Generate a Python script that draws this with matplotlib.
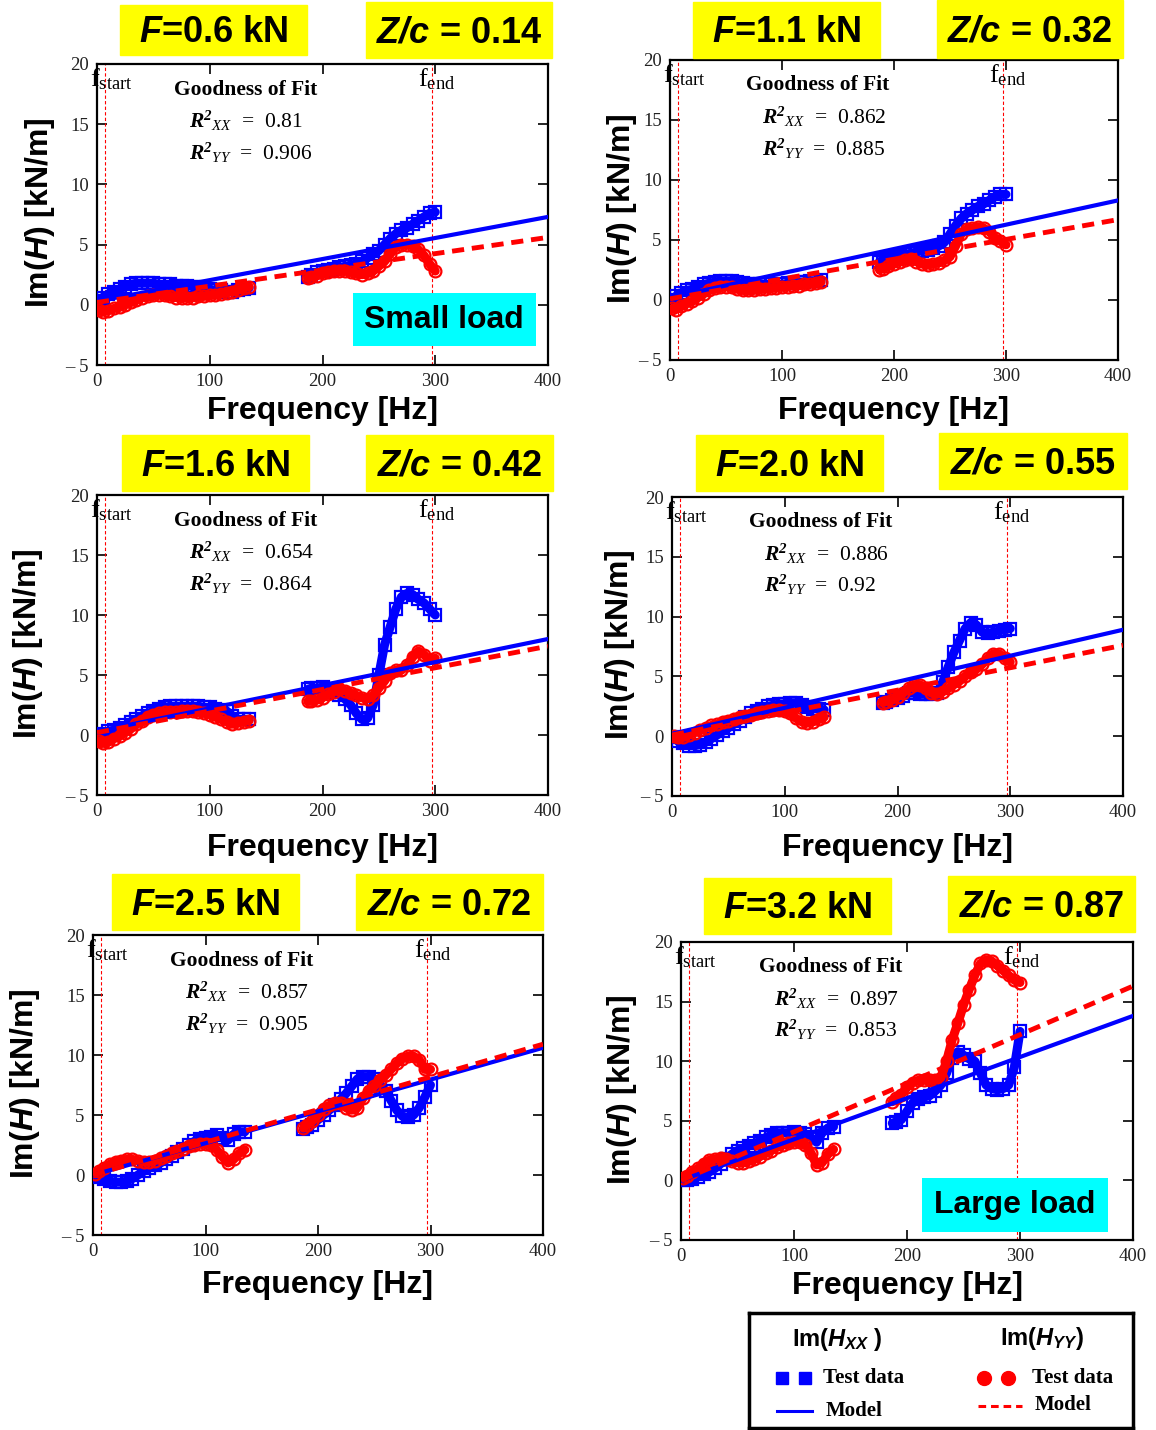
import matplotlib
matplotlib.use("Agg")
import matplotlib.pyplot as plt
from matplotlib.patches import Rectangle

plt.rcParams['mathtext.fontset'] = 'custom'
plt.rcParams['mathtext.rm'] = 'Liberation Serif'
plt.rcParams['mathtext.it'] = 'Liberation Serif:italic'
plt.rcParams['mathtext.bf'] = 'Liberation Serif:italic:bold'
plt.rcParams['mathtext.sf'] = 'Liberation Sans:italic:bold'

# ---- data ----
FREQ_LO = [2, 5, 10, 15, 20, 25, 30, 35, 40, 45, 50, 55, 60, 65, 70,
           75, 80, 85, 90, 95, 100, 105, 110, 115, 120, 125, 130, 135]
FREQ_HI = [187, 190, 195, 200, 205, 210, 215, 220, 225, 230, 235, 240,
           245, 250, 255, 260, 265, 270, 275, 280, 285, 290, 295, 300]
MODEL_FREQ = [0, 400]

LOADS = ['0.6', '1.1', '1.6', '2.0', '2.5', '3.2']
ZC = ['0.14', '0.32', '0.42', '0.55', '0.72', '0.87']
R2_XX = ['0.81', '0.862', '0.654', '0.886', '0.857', '0.897']
R2_YY = ['0.906', '0.885', '0.864', '0.92', '0.905', '0.853']

# model lines (value at 0 Hz and 400 Hz)
XX_MODEL = [[0.3, 7.3], [0.2, 8.3], [0.3, 8.0], [0.2, 8.9], [0.0, 10.6], [0.0, 13.8]]
YY_MODEL = [[0.2, 5.6], [0.1, 6.7], [0.2, 7.4], [0.1, 7.6], [0.0, 10.9], [0.0, 16.3]]

# F = 0.6 kN
XX_LO_1 = [0.3, 0.6, 0.9, 1.1, 1.3, 1.5, 1.7, 1.8, 1.8, 1.8, 1.8, 1.7, 1.7, 1.7,
           1.6, 1.6, 1.6, 1.5, 1.5, 1.4, 1.3, 1.2, 1.2, 1.1, 1.1, 1.2, 1.3, 1.4]
YY_LO_1 = [-0.4, -0.6, -0.5, -0.3, -0.2, 0.0, 0.2, 0.4, 0.6, 0.7, 0.8, 0.8, 0.8, 0.7,
           0.6, 0.6, 0.6, 0.6, 0.7, 0.7, 0.8, 0.8, 0.9, 1.0, 1.1, 1.2, 1.4, 1.5]
XX_HI_1 = [2.3, 2.5, 2.7, 2.8, 2.9, 3.0, 3.1, 3.2, 3.3, 3.4, 3.6, 3.9,
           4.2, 4.5, 5.0, 5.5, 5.9, 6.2, 6.4, 6.7, 7.0, 7.3, 7.6, 7.7]
YY_HI_1 = [2.2, 2.3, 2.4, 2.6, 2.7, 2.8, 2.8, 2.8, 2.7, 2.6, 2.5, 2.6,
           2.8, 3.2, 3.6, 4.2, 4.8, 5.0, 5.0, 4.9, 4.6, 4.1, 3.4, 2.8]
# F = 1.1 kN
XX_LO_2 = [0.0, 0.3, 0.6, 0.8, 0.9, 1.1, 1.3, 1.4, 1.5, 1.6, 1.6, 1.6, 1.5, 1.4,
           1.3, 1.3, 1.3, 1.3, 1.3, 1.3, 1.3, 1.4, 1.4, 1.5, 1.5, 1.6, 1.6, 1.7]
YY_LO_2 = [-0.7, -0.8, -0.5, -0.3, -0.1, 0.2, 0.5, 0.8, 1.0, 1.1, 1.1, 1.1, 0.9, 0.8,
           0.8, 0.8, 0.9, 0.9, 1.0, 1.0, 1.1, 1.1, 1.2, 1.2, 1.3, 1.3, 1.4, 1.5]
XX_HI_2 = [3.2, 3.3, 3.4, 3.6, 3.7, 3.8, 3.9, 4.0, 4.1, 4.2, 4.3, 4.5,
           4.8, 5.5, 6.2, 6.8, 7.2, 7.5, 7.8, 8.0, 8.3, 8.6, 8.8, 8.8]
YY_HI_2 = [2.5, 2.6, 2.8, 3.0, 3.2, 3.3, 3.4, 3.2, 3.0, 2.9, 3.0, 3.1,
           3.3, 3.6, 4.5, 5.5, 5.9, 6.0, 6.1, 6.0, 5.7, 5.2, 4.9, 4.6]
# F = 1.6 kN
XX_LO_3 = [0.0, 0.1, 0.3, 0.4, 0.6, 0.8, 1.1, 1.3, 1.6, 1.8, 2.0, 2.2, 2.3, 2.4,
           2.4, 2.4, 2.4, 2.4, 2.4, 2.3, 2.3, 2.2, 2.1, 2.0, 1.6, 1.3, 1.3, 1.3]
YY_LO_3 = [-0.5, -0.7, -0.6, -0.3, -0.1, 0.2, 0.5, 0.9, 1.2, 1.5, 1.7, 1.8, 1.9, 1.9,
           1.9, 2.0, 2.0, 2.0, 1.9, 1.8, 1.7, 1.5, 1.3, 1.1, 0.9, 1.0, 1.1, 1.2]
XX_HI_3 = [3.8, 3.9, 3.9, 4.0, 3.8, 3.6, 3.3, 3.0, 2.5, 1.8, 1.3, 1.4,
           2.5, 5.0, 7.5, 9.0, 10.5, 11.5, 11.8, 11.7, 11.3, 11.0, 10.5, 10.0]
YY_HI_3 = [2.8, 2.8, 2.9, 3.1, 3.4, 3.6, 3.8, 3.7, 3.5, 3.3, 3.1, 3.0,
           3.3, 3.9, 4.5, 5.2, 5.4, 5.4, 5.8, 6.5, 7.0, 6.7, 6.2, 6.4]
# F = 2.0 kN
XX_LO_4 = [-0.1, -0.4, -0.6, -0.8, -0.8, -0.7, -0.5, -0.2, 0.1, 0.4, 0.7, 1.0, 1.3, 1.6,
           1.9, 2.1, 2.3, 2.5, 2.6, 2.7, 2.7, 2.8, 2.8, 2.6, 2.4, 2.3, 2.3, 2.2]
YY_LO_4 = [0.0, -0.1, -0.1, 0.1, 0.3, 0.5, 0.7, 0.9, 1.0, 1.2, 1.3, 1.4, 1.6, 1.7,
           1.8, 1.9, 2.0, 2.1, 2.2, 2.2, 2.1, 1.9, 1.5, 1.2, 1.1, 1.2, 1.4, 1.6]
XX_HI_4 = [2.8, 2.9, 3.0, 3.2, 3.4, 3.6, 3.6, 3.5, 3.5, 3.5, 3.6, 4.5,
           5.8, 7.0, 8.0, 9.0, 9.5, 9.3, 8.7, 8.6, 8.7, 8.8, 8.9, 9.0]
YY_HI_4 = [2.8, 2.9, 3.0, 3.3, 3.6, 4.0, 4.3, 4.3, 4.0, 3.6, 3.5, 3.7,
           4.0, 4.3, 4.6, 5.0, 5.4, 5.6, 6.0, 6.5, 6.9, 6.9, 6.5, 6.2]
# F = 2.5 kN
XX_LO_5 = [0.0, -0.2, -0.3, -0.5, -0.6, -0.6, -0.5, -0.3, 0.0, 0.3, 0.6, 0.8, 1.0, 1.3,
           1.6, 1.9, 2.2, 2.5, 2.8, 3.0, 3.1, 3.2, 3.3, 3.1, 2.9, 3.4, 3.6, 3.6]
YY_LO_5 = [0.1, 0.3, 0.6, 0.9, 1.1, 1.2, 1.3, 1.3, 1.2, 1.1, 1.1, 1.2, 1.4, 1.6,
           1.8, 2.0, 2.2, 2.4, 2.5, 2.6, 2.6, 2.5, 2.1, 1.5, 1.0, 1.3, 1.8, 2.1]
XX_HI_5 = [3.8, 4.0, 4.2, 4.6, 5.0, 5.4, 5.8, 6.3, 6.8, 7.4, 8.0, 8.2,
           8.2, 8.0, 7.6, 7.0, 6.2, 5.4, 4.9, 4.8, 5.0, 5.6, 6.5, 7.5]
YY_HI_5 = [3.9, 4.2, 4.5, 5.0, 5.5, 5.8, 6.0, 6.0, 5.6, 5.4, 5.6, 6.4,
           7.0, 7.4, 7.9, 8.3, 8.8, 9.3, 9.7, 9.9, 9.9, 9.6, 8.8, 8.8]
# F = 3.2 kN
XX_LO_6 = [0.0, 0.0, 0.1, 0.3, 0.5, 0.7, 1.0, 1.4, 1.8, 2.2, 2.5, 2.7, 2.9, 3.1,
           3.3, 3.6, 3.8, 4.0, 4.0, 4.0, 4.1, 4.0, 3.9, 3.6, 3.2, 4.0, 4.4, 4.5]
YY_LO_6 = [0.2, 0.4, 0.7, 1.0, 1.4, 1.7, 1.8, 1.9, 1.8, 1.6, 1.5, 1.5, 1.6, 1.8,
           2.0, 2.3, 2.5, 2.8, 3.0, 3.1, 3.2, 3.2, 3.0, 2.3, 1.3, 1.5, 2.2, 2.6]
XX_HI_6 = [4.8, 4.9, 5.1, 5.8, 6.5, 6.8, 7.0, 7.1, 7.5, 8.0, 9.0, 10.3,
           10.8, 10.5, 10.2, 10.0, 9.0, 8.0, 7.7, 7.6, 7.7, 8.0, 9.5, 12.5]
YY_HI_6 = [6.6, 6.9, 7.2, 7.8, 8.2, 8.4, 8.4, 8.4, 8.4, 8.6, 10.0, 11.8,
           13.2, 14.7, 16.0, 17.2, 18.2, 18.5, 18.4, 18.0, 17.6, 17.2, 16.8, 16.6]

XX_LO = [XX_LO_1, XX_LO_2, XX_LO_3, XX_LO_4, XX_LO_5, XX_LO_6]
YY_LO = [YY_LO_1, YY_LO_2, YY_LO_3, YY_LO_4, YY_LO_5, YY_LO_6]
XX_HI = [XX_HI_1, XX_HI_2, XX_HI_3, XX_HI_4, XX_HI_5, XX_HI_6]
YY_HI = [YY_HI_1, YY_HI_2, YY_HI_3, YY_HI_4, YY_HI_5, YY_HI_6]

F_START, F_END = 7, 297
XTICKS = [0, 100, 200, 300, 400]
YTICKS = [-5, 0, 5, 10, 15, 20]
YTICKLABELS = ['\u2013 5', '0', '5', '10', '15', '20']

# ---- layout (pixels in the 1156 x 1430 canvas) ----
W, H = 1156, 1430
AX_PX = [(97, 64, 548, 365), (670, 60, 1118, 360), (97, 495, 548, 795),
         (672, 497, 1123, 796), (93, 935, 543, 1235), (681, 942, 1133, 1240)]
FBOX_PX = [(120, 5, 307, 55), (693, 2, 880, 58), (122, 435, 309, 491),
           (696, 435, 883, 491), (112, 874, 299, 930), (704, 878, 891, 934)]
ZBOX_PX = [(366, 2, 552, 58), (937, 0, 1123, 58), (366, 435, 553, 491),
           (939, 433, 1127, 489), (356, 874, 543, 930), (948, 876, 1135, 932)]
YLAB_X = [40, 622, 28, 620, 25, 622]
XLAB_Y = [411, 411, 848, 848, 1285, 1286]

BLUE = '#0000FF'
RED = '#FF0000'
SERIF = 'Liberation Serif'
SANS = 'Liberation Sans'


def px_rect(l, t, r, b):
    return [l / W, 1 - b / H, (r - l) / W, (b - t) / H]


def box(rect, color, text):
    l, t, r, b = rect
    fig.patches.append(Rectangle((l / W, 1 - b / H), (r - l) / W, (b - t) / H,
                                 transform=fig.transFigure, color=color, zorder=0))
    fig.text((l + r) / 2 / W, 1 - ((t + b) / 2 + 3) / H, text, ha='center', va='center',
             family=SANS, weight='bold', fontsize=26)


def test_data(ax, freq, vals, color, marker, ms, z):
    # dense measured points: a thick band with the marker outlines on it
    ax.plot(freq, vals, color=color, lw=6.5, solid_capstyle='round',
            solid_joinstyle='round', zorder=z)
    ax.plot(freq, vals, ls='none', marker=marker, ms=ms, mfc='none', mec=color,
            mew=1.6, zorder=z)


fig = plt.figure(figsize=(W / 100, H / 100), dpi=100)

for i in range(6):
    l, t, r, b = AX_PX[i]
    ax = fig.add_axes(px_rect(l, t, r, b))
    test_data(ax, FREQ_LO, XX_LO[i], BLUE, 's', 8, 3)
    test_data(ax, FREQ_HI, XX_HI[i], BLUE, 's', 8, 3)
    test_data(ax, FREQ_LO, YY_LO[i], RED, 'o', 8.5, 4)
    test_data(ax, FREQ_HI, YY_HI[i], RED, 'o', 8.5, 4)
    ax.plot(MODEL_FREQ, XX_MODEL[i], color=BLUE, lw=3, zorder=5)
    ax.plot(MODEL_FREQ, YY_MODEL[i], color=RED, lw=3.5, dashes=(2.5, 1.6), zorder=6)
    ax.axvline(F_START, color=RED, lw=0.8, dashes=(3, 2), zorder=2)
    ax.axvline(F_END, color=RED, lw=0.8, dashes=(3, 2), zorder=2)

    ax.set_xlim(0, 400)
    ax.set_ylim(-5, 20)
    ax.set_xticks(XTICKS)
    ax.set_yticks(YTICKS)
    ax.set_yticklabels(YTICKLABELS)
    ax.tick_params(direction='in', length=7, width=1.2, top=True, right=True,
                   labelsize=13.5, labelcolor='#222222', pad=6)
    for lab in ax.get_xticklabels() + ax.get_yticklabels():
        lab.set_family(SERIF)
    for sp in ax.spines.values():
        sp.set_linewidth(1.6)

    ax.set_xlabel('Frequency [Hz]', family=SANS, weight='bold', fontsize=23)
    ax.xaxis.set_label_coords(0.5, (b - XLAB_Y[i]) / (b - t))
    ax.xaxis.label.set_va('center')
    ax.set_ylabel('Im($\\mathsf{H}$) [kN/m]', family=SANS, weight='bold', fontsize=23)
    ax.yaxis.set_label_coords((YLAB_X[i] - l) / (r - l), 0.505)
    ax.yaxis.label.set_va('center')

    ax.text(-6, 19.8, '$\\mathrm{f}_{\\mathrm{start}}$', fontsize=19, va='top', ha='left', zorder=7)
    ax.text(285, 19.8, '$\\mathrm{f}_{\\mathrm{end}}$', fontsize=19, va='top', ha='left', zorder=7)

    ax.text(0.33, 0.915, 'Goodness of Fit', transform=ax.transAxes, ha='center', va='center',
            family=SERIF, weight='bold', fontsize=15.5)
    ax.text(0.205, 0.81, '$\\mathbf{R}^{\\mathbf{2}}{}_{XX}$  =  ' + R2_XX[i], transform=ax.transAxes,
            ha='left', va='center', family=SERIF, fontsize=15.5)
    ax.text(0.205, 0.705, '$\\mathbf{R}^{\\mathbf{2}}{}_{YY}$  =  ' + R2_YY[i], transform=ax.transAxes,
            ha='left', va='center', family=SERIF, fontsize=15.5)

    box(FBOX_PX[i], '#FFFF00', '$\\mathsf{F}$=' + LOADS[i] + ' kN')
    box(ZBOX_PX[i], '#FFFF00', '$\\mathsf{Z/c}$ = ' + ZC[i])

    if i == 0:
        ax.text(0.77, 0.151, 'Small load', transform=ax.transAxes, ha='center', va='center',
                family=SANS, weight='bold', fontsize=23, zorder=8,
                bbox=dict(boxstyle='square,pad=0.36', fc='#00FFFF', ec='none'))
    if i == 5:
        ax.text(0.739, 0.118, 'Large load', transform=ax.transAxes, ha='center', va='center',
                family=SANS, weight='bold', fontsize=23, zorder=8,
                bbox=dict(boxstyle='square,pad=0.38', fc='#00FFFF', ec='none'))

# ---- legend panel ----
lg = fig.add_axes(px_rect(749, 1313, 1133, 1428))
lg.set_xlim(0, 1)
lg.set_ylim(0, 1)
lg.set_xticks([])
lg.set_yticks([])
for sp in lg.spines.values():
    sp.set_linewidth(2.5)
lg.text(0.229, 0.77, 'Im($\\mathsf{H}_{\\mathsf{XX}}$ )', ha='center', va='center',
        family=SANS, weight='bold', fontsize=17)
lg.text(0.763, 0.78, 'Im($\\mathsf{H}_{\\mathsf{YY}}$)', ha='center', va='center',
        family=SANS, weight='bold', fontsize=17)
lg.plot([0.086, 0.146], [0.435, 0.435], ls='none', marker='s', ms=9, color=BLUE)
lg.plot([0.073, 0.164], [0.15, 0.15], color=BLUE, lw=2.2)
lg.plot([0.612, 0.674], [0.435, 0.435], ls='none', marker='o', ms=10, color=RED)
lg.plot([0.596, 0.711], [0.19, 0.19], color=RED, lw=2.2, dashes=(2.5, 1.6))
for x, y, s in [(0.193, 0.435, 'Test data'), (0.2, 0.15, 'Model'),
                (0.737, 0.435, 'Test data'), (0.745, 0.2, 'Model')]:
    lg.text(x, y, s, ha='left', va='center', family=SERIF, weight='bold', fontsize=15)

fig.savefig('out.png', dpi=100)
